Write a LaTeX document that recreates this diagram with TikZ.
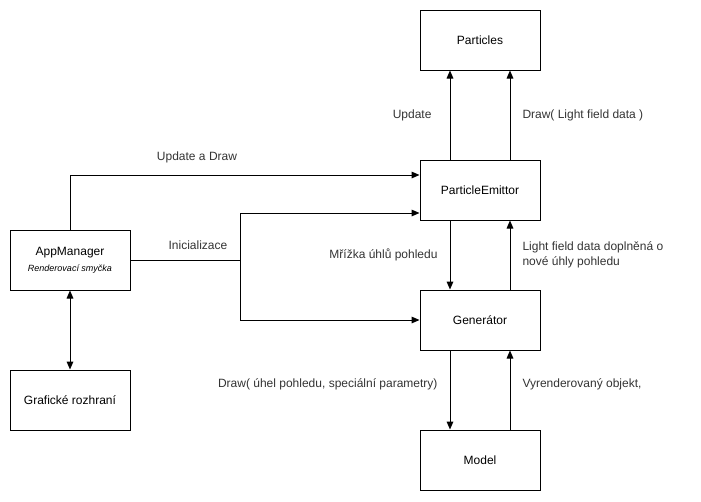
\documentclass[tikz,border=0pt]{standalone}
\usepackage{fontspec}
\setmainfont{Liberation Sans}
\usetikzlibrary{arrows.meta}
\begin{document}
\begin{tikzpicture}[x=0.75pt,y=-0.75pt,>={Triangle[length=6pt,width=5pt]},line width=0.75pt]
  % Styles
  \tikzstyle{block}=[draw,minimum width=90pt,minimum height=45pt,inner sep=0pt,font=\fontsize{9}{11}\selectfont]
  \tikzstyle{label text}=[font=\fontsize{9}{11}\selectfont,inner sep=0pt,text=black!80]

  % The frame
  \useasboundingbox (0,0) rectangle (701,501);

  % Blocks
  \node[block] (particles) at (480,40) {Particles};
  \node[block] (emittor) at (480,190) {ParticleEmittor};
  \node[block] (generator) at (480,320) {Generátor};
  \node[block] (model) at (480,460) {Model};
  \node[block,align=center] (app) at (70,260)
    {AppManager\\[1pt]{\fontsize{6.75}{8}\selectfont\itshape Renderovací smyčka}};
  \node[block] (gui) at (70,400) {Grafické rozhraní};

  % Branch point
  \coordinate (split) at (240,260);

  % Connectors
  \draw[->] ([xshift=-22.5pt]emittor.north) -- ([xshift=-22.5pt]particles.south);
  \draw[->] ([xshift=22.5pt]emittor.north) -- ([xshift=22.5pt]particles.south);

  \draw[->] (app.north) |- ([yshift=11.25pt]emittor.west);
  \draw (app.east) -- (split);
  \draw[->] (split) |- ([yshift=-17.25pt]emittor.west);
  \draw[->] (split) |- (generator.west);

  \draw[->] ([xshift=-22.5pt]emittor.south) -- ([xshift=-22.5pt]generator.north);
  \draw[->] ([xshift=22.5pt]generator.north) -- ([xshift=22.5pt]emittor.south);
  \draw[->] ([xshift=-22.5pt]generator.south) -- ([xshift=-22.5pt]model.north);
  \draw[->] ([xshift=22.5pt]model.north) -- ([xshift=22.5pt]generator.south);

  \draw[<->] (app.south) -- (gui.north);

  % Labels
  \node[label text,anchor=east] (lupdate) at (432,115) {Update};
  \node[label text,anchor=west] (ldraw) at (522,115) {Draw( Light field data )};
  \node[label text] (lupdraw) at (197,157) {Update a Draw};
  \node[label text] (linit) at (198,245) {Inicializace};
  \node[label text,anchor=east] (lgrid) at (438,255) {Mřížka úhlů pohledu};
  \node[label text,anchor=west,align=left] (llight) at (522,255)
    {Light field data doplněná o\\nové úhly pohledu};
  \node[label text,anchor=east] (lmodeldraw) at (438,384) {Draw( úhel pohledu, speciální parametry)};
  \node[label text,anchor=west] (lrender) at (522,384) {Vyrenderovaný objekt,};
\end{tikzpicture}
\end{document}
